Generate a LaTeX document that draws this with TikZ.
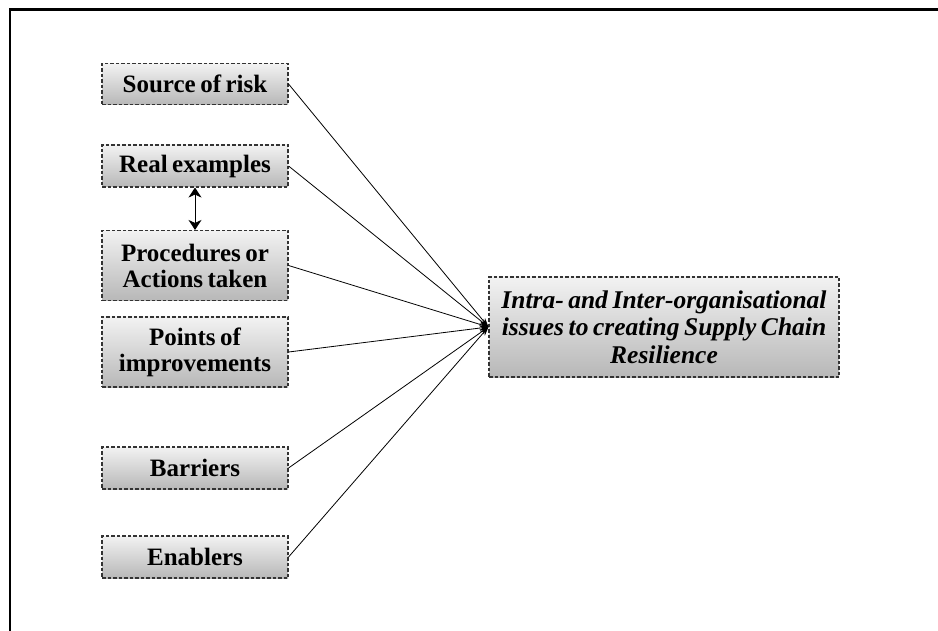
\documentclass[tikz,border=0pt]{standalone}
\usepackage{fontspec}
\setmainfont{Liberation Serif}
\usetikzlibrary{arrows.meta}
\newcommand\tightwords{\spaceskip=0.18em plus 0.05em minus 0.05em\relax}
\begin{document}
\begin{tikzpicture}[x=1pt,y=-1pt,
  factor/.style={draw=black!80, dash pattern=on 3.5pt off 2pt, line width=1.1pt,
    top color=black!5, bottom color=black!28, minimum width=186pt,
    align=center, inner sep=0pt,
    font=\fontsize{25}{26}\selectfont\bfseries,
    execute at begin node=\tightwords},
  link/.style={line width=0.8pt, -{Stealth[length=9pt,width=6pt]}},
  pairlink/.style={line width=1pt, {Stealth[length=10pt,width=13pt,inset=3pt]}-{Stealth[length=10pt,width=13pt,inset=3pt]}},
]
\useasboundingbox (0,0) rectangle (938,631);
% outer frame
\draw[line width=2.6pt] (10,640) -- (10,9.5) -- (950,9.5);

% factor boxes
\node[factor, minimum height=41pt] (src) at (195,84) {Source of risk};
\node[factor, minimum height=42pt] (real) at (195,166) {Real examples};
\node[factor, minimum height=70pt] (proc) at (195,265.5) {Procedures or\\Actions taken};
\node[factor, minimum height=70pt] (impr) at (195,352) {Points of\\improvements};
\node[factor, minimum height=42pt] (barr) at (195,468) {Barriers};
\node[factor, minimum height=42pt] (enab) at (195,557) {Enablers};

% central issue
\node[factor, minimum width=350pt, minimum height=100pt,
  font=\fontsize{25.5}{27.5}\selectfont\bfseries\itshape]
  (core) at (664,327) {Intra- and Inter-organisational\\issues to creating Supply Chain\\Resilience};

% connectors
\foreach \n in {src,real,proc,impr,barr,enab}
  \draw[link] (\n.east) -- (core.west);
\draw[pairlink] (real.south) -- (proc.north);
\end{tikzpicture}
\end{document}
